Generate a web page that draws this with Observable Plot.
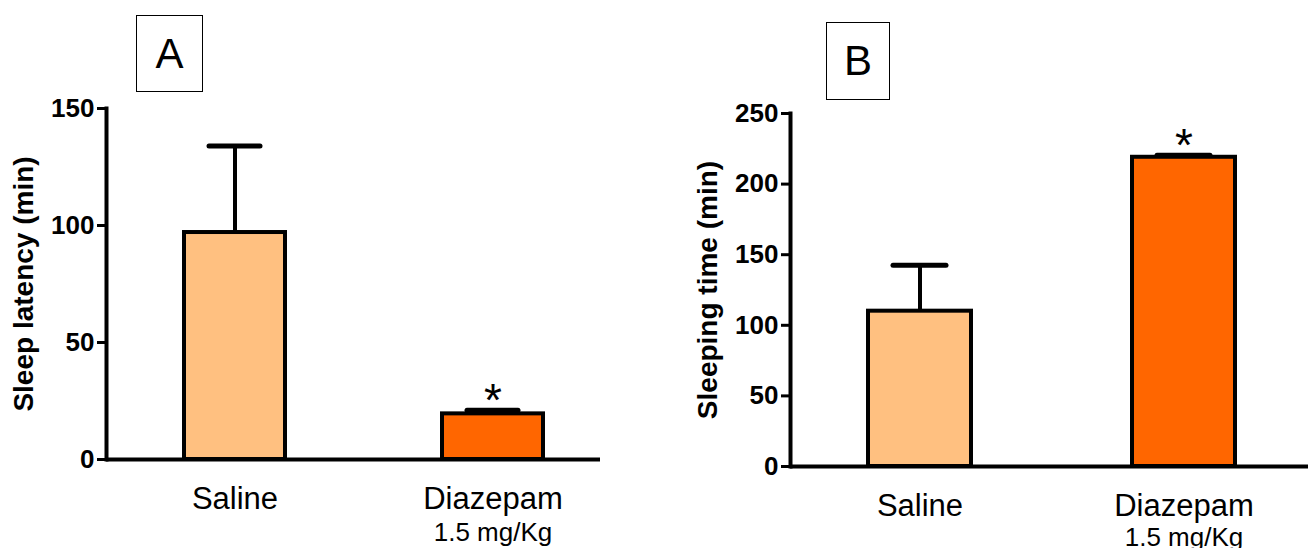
<!DOCTYPE html>
<html>
<head>
<meta charset="utf-8">
<script src="https://cdn.jsdelivr.net/npm/d3@7"></script>
<script src="https://cdn.jsdelivr.net/npm/@observablehq/plot@0.6"></script>
<style>
  html, body { margin: 0; padding: 0; background: #fff; }
  #wrap { position: relative; width: 1308px; height: 548px; overflow: hidden; font-family: "Liberation Sans", Arial, sans-serif; }
  .panel { position: absolute; top: 0; }
  .tag { position: absolute; box-sizing: border-box; border: 1.5px solid #000; display: flex; align-items: center; justify-content: center; font-size: 42px; color: #000; background: #fff; }
</style>
</head>
<body>
<div id="wrap"></div>
<script>
const groups = ["Saline", "Diazepam"];
const doses = ["", "1.5 mg/Kg"];
const colors = ["#FFC080", "#FF6600"];

const latencyMean = [97, 19.5];
const latencyUpper = [134, 21];
const latencyStar = [false, true];
const latencyTicks = [0, 50, 100, 150];

const sleepMean = [110, 219];
const sleepUpper = [142.5, 220.5];
const sleepStar = [false, true];
const sleepTicks = [0, 50, 100, 150, 200, 250];

const font = "'Liberation Sans', Arial, sans-serif";

function panel({means, uppers, stars, ticks, yMax, title, width, marginLeft, marginRight, marginTop, marginBottom, xRange, left, doseDy}) {
  const data = groups.map((g, i) => ({group: g, dose: doses[i], mean: means[i], upper: uppers[i], star: stars[i]}));
  const chart = Plot.plot({
    width, height: 548,
    marginLeft, marginRight, marginTop, marginBottom,
    style: {fontFamily: font, background: "transparent", color: "#000", overflow: "visible"},
    x: {type: "band", domain: groups, range: xRange, paddingInner: 0.61, paddingOuter: 0, axis: null},
    y: {domain: [0, yMax], axis: null},
    color: {domain: groups, range: colors},
    marks: [
      Plot.ruleX(data, {x: "group", y1: "mean", y2: "upper", stroke: "#000", strokeWidth: 4}),
      Plot.tickY(data, {x: "group", y: "upper", stroke: "#000", strokeWidth: 5, strokeLinecap: "round", insetLeft: 25, insetRight: 25}),
      Plot.barY(data, {x: "group", y: "mean", fill: "group", stroke: "#000", strokeWidth: 4}),
      Plot.text(data.filter(d => d.star), {x: "group", y: "upper", text: () => "*", fontSize: 46, dy: -9, fill: "#000"}),
      Plot.ruleY([0], {stroke: "#000", strokeWidth: 4}),
      Plot.frame({anchor: "left", stroke: "#000", strokeWidth: 4}),
      Plot.axisY({ticks, tickSize: 9, tickPadding: 3, strokeWidth: 3, fontSize: 26, fontWeight: "bold", label: null}),
      Plot.axisX({tickSize: 0, tickPadding: 27, fontSize: 31, label: null}),
      Plot.text(data, {x: "group", text: "dose", frameAnchor: "bottom", lineAnchor: "top", dy: doseDy, fontSize: 26, fill: "#000"}),
      Plot.text([title], {frameAnchor: "left", textAnchor: "middle", rotate: -90, dx: -82, fontSize: 28, fontWeight: "bold", fill: "#000"})
    ]
  });
  chart.classList.add("panel");
  chart.style.left = left + "px";
  return chart;
}

const wrap = document.getElementById("wrap");
wrap.appendChild(panel({
  means: latencyMean, uppers: latencyUpper, stars: latencyStar, ticks: latencyTicks, yMax: 150,
  title: "Sleep latency (min)",
  width: 654, marginLeft: 106, marginRight: 54, marginTop: 108, marginBottom: 89,
  xRange: [183, 543], left: 0, doseDy: 63
}));
wrap.appendChild(panel({
  means: sleepMean, uppers: sleepUpper, stars: sleepStar, ticks: sleepTicks, yMax: 250,
  title: "Sleeping time (min)",
  width: 654, marginLeft: 136, marginRight: 0, marginTop: 113, marginBottom: 82,
  xRange: [213, 581], left: 654, doseDy: 61
}));

function tag(text, x, y, w, h) {
  const d = document.createElement("div");
  d.className = "tag";
  d.textContent = text;
  Object.assign(d.style, {left: x + "px", top: y + "px", width: w + "px", height: h + "px"});
  wrap.appendChild(d);
}
tag("A", 136, 15, 67, 77);
tag("B", 826, 22, 64, 78);
</script>
</body>
</html>
